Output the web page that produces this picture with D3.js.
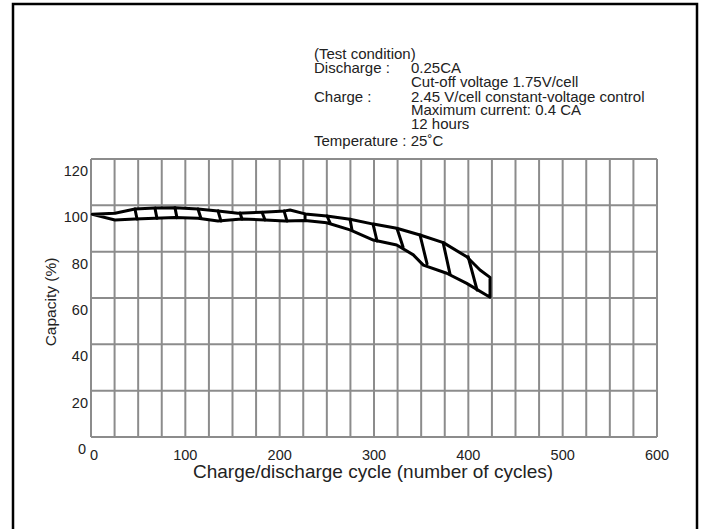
<!DOCTYPE html>
<html><head><meta charset="utf-8">
<script src="https://cdn.jsdelivr.net/npm/d3@7"></script>
<style>html,body{margin:0;padding:0;background:#fff;}svg{display:block;}</style>
</head><body>
<svg id="chart" width="702" height="529"></svg>
<script>
// ---- data ----
const xTicks = [0, 100, 200, 300, 400, 500, 600];
const yTicks = [0, 20, 40, 60, 80, 100, 120];
// upper boundary of capacity band [cycles, %]
const upperCycles = [1.4, 25.4, 46.6, 67.8, 89.0, 113.4, 134.6, 155.8, 181.3, 205.7, 211.0, 226.9, 249.9, 274.6, 299.3, 324.1, 348.8, 373.5, 398.3, 412.4, 423.0];
const upperValues = [96.1, 96.6, 98.4, 98.8, 99.0, 98.4, 97.6, 96.6, 97.0, 97.6, 98.0, 96.3, 95.4, 94.0, 91.9, 90.1, 87.2, 83.9, 77.8, 72.1, 68.9];
// lower boundary
const lowerCycles = [1.4, 25.4, 46.6, 67.8, 89.0, 113.4, 134.6, 159.8, 184.5, 205.7, 226.9, 249.9, 274.6, 299.3, 324.1, 341.7, 352.3, 377.1, 398.3, 423.0];
const lowerValues = [96.1, 93.7, 94.1, 94.4, 94.7, 94.4, 93.2, 94.1, 93.7, 93.2, 93.5, 92.5, 89.4, 85.0, 82.9, 78.6, 74.2, 70.7, 66.3, 60.3];
// hatch strokes: top point (cycles, %) to bottom point (cycles, %)
const hatchTopCycles = [46.6, 67.8, 89.0, 113.4, 134.6, 158.0, 181.3, 204.6, 226.9, 250.2, 274.6, 299.0, 324.4, 348.8, 373.3, 399.8];
const hatchTopValues = [98.4, 98.8, 99.0, 98.4, 97.6, 96.7, 97.0, 97.6, 96.3, 95.4, 94.0, 91.9, 90.0, 87.2, 83.9, 77.8];
const hatchBotCycles = [48.8, 69.9, 91.1, 116.6, 137.8, 160.1, 184.5, 207.8, 226.9, 253.4, 276.7, 303.2, 330.8, 356.2, 380.7, 409.3];
const hatchBotValues = [94.1, 94.4, 94.7, 94.3, 93.2, 94.1, 93.7, 93.2, 93.7, 92.4, 89.2, 84.6, 82.0, 74.8, 70.1, 63.4];
const conditionLabels = ["(Test condition)", "Discharge :", "", "Charge :", "", "", "Temperature : 25˚C"];
const conditionValues = ["", "0.25CA", "Cut-off voltage 1.75V/cell", "2.45 V/cell constant-voltage control", "Maximum current: 0.4 CA", "12 hours", ""];

// ---- drawing ----
const svg = d3.select("#chart");
const font = "'Liberation Sans', Arial, sans-serif";
const x = d3.scaleLinear().domain([0, 600]).range([91, 657]);
const y = d3.scaleLinear().domain([0, 120]).range([437, 159]);

// outer frame
svg.append("rect").attr("x", 13).attr("y", 4).attr("width", 684).attr("height", 540)
  .attr("fill", "none").attr("stroke", "#000").attr("stroke-width", 2.5);

// grid
const grid = svg.append("g").attr("stroke", "#8c8c8c").attr("stroke-width", 2);
grid.selectAll("line.v").data(d3.range(0, 601, 25)).join("line")
  .attr("x1", d => x(d)).attr("x2", d => x(d)).attr("y1", y(0)).attr("y2", y(120));
grid.selectAll("line.h").data(d3.range(0, 121, 20)).join("line").attr("class", "h")
  .attr("x1", x(0)).attr("x2", x(600)).attr("y1", d => y(d)).attr("y2", d => y(d));

// tick labels
svg.append("g").selectAll("text").data(yTicks).join("text")
  .attr("x", d => d === 0 ? 86 : 88).attr("y", d => y(d) + 12)
  .attr("text-anchor", "end").attr("dominant-baseline", "central")
  .attr("font-family", font).attr("font-size", 14.5).attr("fill", "#222")
  .text(d => d);
svg.append("g").selectAll("text").data(xTicks).join("text")
  .attr("x", d => d === 0 ? x(d) + 3 : x(d)).attr("y", 455)
  .attr("text-anchor", "middle").attr("dominant-baseline", "central")
  .attr("font-family", font).attr("font-size", 14.5).attr("fill", "#222")
  .text(d => d);

// axis titles
svg.append("text").attr("x", 373).attr("y", 471).attr("text-anchor", "middle")
  .attr("dominant-baseline", "central").attr("font-family", font).attr("font-size", 19).attr("fill", "#222")
  .text("Charge/discharge cycle (number of cycles)");
svg.append("text").attr("transform", "translate(50,302) rotate(-90)").attr("text-anchor", "middle")
  .attr("dominant-baseline", "central").attr("font-family", font).attr("font-size", 15.5).attr("fill", "#222")
  .text("Capacity (%)");

// condition block
const cond = svg.append("g").attr("font-family", font).attr("font-size", 15).attr("fill", "#222");
const lineY = [53, 67, 81, 96, 109, 123, 140];
conditionLabels.forEach((t, i) => {
  if (t) cond.append("text").attr("x", 314).attr("y", lineY[i]).attr("dominant-baseline", "central").text(t);
  if (conditionValues[i]) cond.append("text").attr("x", 411).attr("y", lineY[i]).attr("dominant-baseline", "central").text(conditionValues[i]);
});

// band
const upper = upperCycles.map((c, i) => [c, upperValues[i]]);
const lower = lowerCycles.map((c, i) => [c, lowerValues[i]]);
const outline = upper.concat(lower.slice().reverse());
const line = d3.line().x(d => x(d[0])).y(d => y(d[1]));
svg.append("path").attr("d", line(outline) + "Z")
  .attr("fill", "#fff").attr("stroke", "#000").attr("stroke-width", 3).attr("stroke-linejoin", "round");
svg.append("g").selectAll("line").data(hatchTopCycles).join("line")
  .attr("x1", (d, i) => x(d)).attr("y1", (d, i) => y(hatchTopValues[i]))
  .attr("x2", (d, i) => x(hatchBotCycles[i])).attr("y2", (d, i) => y(hatchBotValues[i]))
  .attr("stroke", "#000").attr("stroke-width", 3).attr("stroke-linecap", "round");
</script>
</body></html>
